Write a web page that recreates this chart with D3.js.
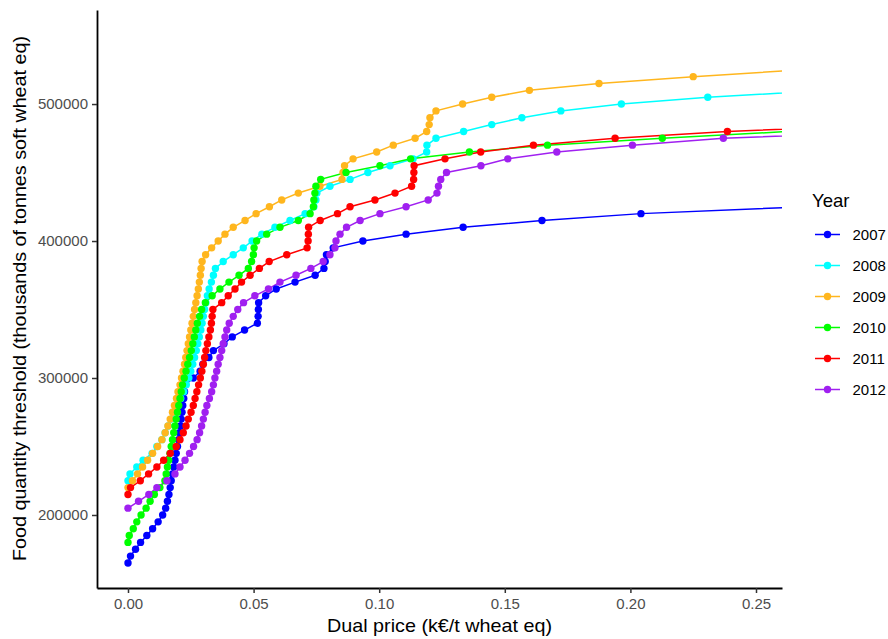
<!DOCTYPE html>
<html>
<head>
<meta charset="utf-8">
<script src="https://cdn.jsdelivr.net/npm/d3@7"></script>
<style>
  body { margin: 0; background: #fff; }
  text { font-family: "Liberation Sans", Arial, sans-serif; }
</style>
</head>
<body>
<div id="chart"></div>
<script>
// Threshold levels (food quantity, tonnes soft wheat eq)
var thresholds = [165000, 170000, 175000, 180000, 185000, 190000, 195000, 200000, 205000, 210000,
  215000, 220000, 225000, 230000, 235000, 240000, 245000, 250000, 255000, 260000,
  265000, 270000, 275000, 280000, 285000, 290000, 295000, 300000, 305000, 310000,
  315000, 320000, 325000, 330000, 335000, 340000, 345000, 350000, 355000, 360000,
  365000, 370000, 375000, 380000, 385000, 390000, 395000, 400000, 405000, 410000,
  415000, 420000, 425000, 430000, 435000, 440000, 445000, 450000, 455000, 460000,
  465000, 470000, 475000, 480000, 485000, 490000, 495000, 500000, 505000, 510000,
  515000, 520000, 525000];

// Dual price for each threshold level (null = no point at that level)
var price2007 = [0, 0.001, 0.003, 0.005, 0.0075, 0.0098, 0.012, 0.0138, 0.015, 0.0157,
  0.0163, 0.0168, 0.0172, 0.0177, 0.0182, 0.0187, 0.0192, 0.0197, 0.0201, 0.0205,
  0.0209, 0.0212, 0.0215, 0.0218, 0.0222, 0.0225, 0.0228, 0.026, 0.0287, 0.0298,
  0.0322, 0.034, 0.0382, 0.0415, 0.0464, 0.0515, 0.0518, 0.0519, 0.052, 0.0548,
  0.059, 0.0665, 0.0745, 0.078, 0.0785, 0.079, 0.0817, 0.0935, 0.1107, 0.1334,
  0.1648, 0.2042, 0.27, null, null, null, null, null, null, null,
  null, null, null, null, null, null, null, null, null, null,
  null, null, null];

var price2008 = [null, null, null, null, null, null, null, null, null, null,
  null, null, 0, 0.0008, 0.0035, 0.006, 0.0096, 0.0115, 0.0135, 0.0148,
  0.016, 0.0172, 0.0185, 0.02, 0.021, 0.0222, 0.0232, 0.0242, 0.025, 0.0258,
  0.0265, 0.0272, 0.0278, 0.0284, 0.029, 0.0295, 0.03, 0.0305, 0.031, 0.0316,
  0.0323, 0.0332, 0.034, 0.0348, 0.0379, 0.0419, 0.0459, 0.0494, 0.0533, 0.0585,
  0.0645, 0.0705, 0.074, 0.0748, 0.0752, 0.0804, 0.0884, 0.0955, 0.1043, 0.1135,
  0.1189, 0.119, 0.1226, 0.1336, 0.1448, 0.1568, 0.1723, 0.1964, 0.2308, 0.28,
  null, null, null];

var price2009 = [null, null, null, null, null, null, null, null, null, null,
  null, 0, 0.0018, 0.0038, 0.0058, 0.0078, 0.0098, 0.0118, 0.0135, 0.0148,
  0.0159, 0.0168, 0.0177, 0.0185, 0.0193, 0.0199, 0.0207, 0.0213, 0.0219, 0.0225,
  0.023, 0.0235, 0.024, 0.0245, 0.025, 0.0255, 0.026, 0.0265, 0.027, 0.0275,
  0.028, 0.0284, 0.0288, 0.0291, 0.0295, 0.0309, 0.0333, 0.0359, 0.0386, 0.0419,
  0.0466, 0.051, 0.0563, 0.0612, 0.0678, 0.0764, 0.0852, 0.0856, 0.0862, 0.0896,
  0.099, 0.1056, 0.1143, 0.1189, 0.1199, 0.1202, 0.1226, 0.1332, 0.1448, 0.1598,
  0.1875, 0.225, 0.268];

var price2010 = [null, null, null, 0, 0.0005, 0.0021, 0.0035, 0.0052, 0.0072, 0.0088,
  0.0105, 0.0127, 0.0147, 0.0152, 0.0157, 0.0162, 0.0167, 0.0172, 0.0177, 0.0182,
  0.0187, 0.0192, 0.0197, 0.0202, 0.0207, 0.0212, 0.0217, 0.0224, 0.0231, 0.0238,
  0.0245, 0.0252, 0.0258, 0.0264, 0.027, 0.0276, 0.0285, 0.0293, 0.0308, 0.0335,
  0.0366, 0.0402, 0.0442, 0.0479, 0.0492, 0.0499, 0.0502, 0.0512, 0.0552, 0.0605,
  0.0678, 0.0725, 0.0738, 0.074, 0.0744, 0.0748, 0.0767, 0.0868, 0.1003, 0.1125,
  0.1359, 0.167, 0.2127, 0.263, null, null, null, null, null, null,
  null, null, null];

var price2011 = [null, null, null, null, null, null, null, null, null, null,
  0, 0.001, 0.0049, 0.0082, 0.0115, 0.0142, 0.0168, 0.0192, 0.0207, 0.022,
  0.0231, 0.024, 0.0251, 0.026, 0.0267, 0.0274, 0.0281, 0.0288, 0.0294, 0.03,
  0.0305, 0.031, 0.0316, 0.0322, 0.0328, 0.0332, 0.0335, 0.0338, 0.0373, 0.0399,
  0.0426, 0.0452, 0.0486, 0.0523, 0.0562, 0.0632, 0.0713, 0.0717, 0.0718, 0.0719,
  0.0765, 0.0834, 0.0884, 0.0983, 0.1063, 0.1129, 0.1137, 0.1138, 0.1139, 0.1262,
  0.1404, 0.1614, 0.1939, 0.2386, 0.31, null, null, null, null, null,
  null, null, null];

var price2012 = [null, null, null, null, null, null, null, null, 0, 0.0042,
  0.0083, 0.0115, 0.0155, 0.0187, 0.0207, 0.0227, 0.0245, 0.0261, 0.0275, 0.0285,
  0.0293, 0.03, 0.0307, 0.0314, 0.0324, 0.0333, 0.034, 0.0346, 0.0353, 0.0359,
  0.0366, 0.0373, 0.0379, 0.0386, 0.0393, 0.0403, 0.0419, 0.0437, 0.046, 0.0505,
  0.0559, 0.0605, 0.0669, 0.0728, 0.0777, 0.0804, 0.0824, 0.0828, 0.0844, 0.087,
  0.0924, 0.1003, 0.1107, 0.1195, 0.123, 0.1236, 0.1245, 0.1268, 0.1405, 0.1512,
  0.1707, 0.2008, 0.237, 0.307, null, null, null, null, null, null,
  null, null, null];

var years = ["2007", "2008", "2009", "2010", "2011", "2012"];
var yearColors = ["#0000FF", "#00FFFF", "#FFB61E", "#00FF00", "#FF0000", "#A020F0"];
var xTicks = [0, 0.05, 0.10, 0.15, 0.20, 0.25];
var yTicks = [200000, 300000, 400000, 500000];

var priceByYear = [price2007, price2008, price2009, price2010, price2011, price2012];

// SVG area and panel
var svgWidth = 888;
var svgHeight = 639;
var panel = { left: 97, right: 782, top: 10, bottom: 588 };

var svg = d3.select("#chart")
  .append("svg")
  .attr("width", svgWidth)
  .attr("height", svgHeight);

var xScale = d3.scaleLinear()
  .domain([-0.01234, 0.26035])
  .range([panel.left, panel.right]);

var yScale = d3.scaleLinear()
  .domain([146700, 568650])
  .range([panel.bottom, panel.top]);

// build series from the arrays
var series = years.map(function(year, i) {
  var pts = [];
  thresholds.forEach(function(t, j) {
    var p = priceByYear[i][j];
    if (p !== null) pts.push({ price: p, threshold: t });
  });
  return { year: year, color: yearColors[i], points: pts };
});

svg.append("clipPath")
  .attr("id", "panel-clip")
  .append("rect")
  .attr("x", panel.left)
  .attr("y", panel.top)
  .attr("width", panel.right - panel.left)
  .attr("height", panel.bottom - panel.top);

var plotGroup = svg.append("g")
  .attr("clip-path", "url(#panel-clip)");

var line = d3.line()
  .x(d => xScale(d.price))
  .y(d => yScale(d.threshold));

// lines first, then points (like ggplot layers)
plotGroup.selectAll(".series-line")
  .data(series)
  .enter()
  .append("path")
  .attr("class", "series-line")
  .attr("d", d => line(d.points))
  .attr("fill", "none")
  .attr("stroke", d => d.color)
  .attr("stroke-width", 1.5);

series.forEach(function(s) {
  plotGroup.append("g")
    .selectAll("circle")
    .data(s.points)
    .enter()
    .append("circle")
    .attr("cx", d => xScale(d.price))
    .attr("cy", d => yScale(d.threshold))
    .attr("r", 3.7)
    .attr("fill", s.color);
});

// Axes
var bottomAxis = d3.axisBottom(xScale)
  .tickValues(xTicks)
  .tickFormat(d3.format(".2f"))
  .tickSizeInner(5)
  .tickSizeOuter(0)
  .tickPadding(5);

var leftAxis = d3.axisLeft(yScale)
  .tickValues(yTicks)
  .tickFormat(d3.format("d"))
  .tickSizeInner(5)
  .tickSizeOuter(0)
  .tickPadding(4);

var xAxis = svg.append("g")
  .attr("transform", "translate(0," + panel.bottom + ")")
  .call(bottomAxis);

var yAxis = svg.append("g")
  .attr("transform", "translate(" + panel.left + ",0)")
  .call(leftAxis);

[xAxis, yAxis].forEach(function(ax) {
  ax.select(".domain").attr("stroke", "#000").attr("stroke-width", 1.8);
  ax.selectAll(".tick line").attr("stroke", "#333").attr("stroke-width", 1.5);
  ax.selectAll(".tick text")
    .attr("fill", "#4D4D4D")
    .style("font-size", "15px")
    .style("font-family", "'Liberation Sans', Arial, sans-serif");
});

// Axis titles
svg.append("text")
  .attr("x", (panel.left + panel.right) / 2)
  .attr("y", 632)
  .attr("text-anchor", "middle")
  .attr("textLength", 225)
  .attr("lengthAdjust", "spacingAndGlyphs")
  .style("font-size", "19px")
  .attr("fill", "#000")
  .text("Dual price (k€/t wheat eq)");

svg.append("text")
  .attr("transform", "translate(26,298.5) rotate(-90)")
  .attr("text-anchor", "middle")
  .attr("textLength", 525)
  .attr("lengthAdjust", "spacingAndGlyphs")
  .style("font-size", "19px")
  .attr("fill", "#000")
  .text("Food quantity threshold (thousands of tonnes soft wheat eq)");

// Legend
var legend = svg.append("g");

legend.append("text")
  .attr("x", 812)
  .attr("y", 207)
  .style("font-size", "18.5px")
  .attr("fill", "#000")
  .text("Year");

var legendItems = legend.selectAll(".legend-item")
  .data(series)
  .enter()
  .append("g")
  .attr("class", "legend-item")
  .attr("transform", (d, i) => "translate(0," + (234.5 + i * 31) + ")");

legendItems.append("line")
  .attr("x1", 815)
  .attr("x2", 840)
  .attr("stroke", d => d.color)
  .attr("stroke-width", 1.5);

legendItems.append("circle")
  .attr("cx", 827.5)
  .attr("r", 3.7)
  .attr("fill", d => d.color);

legendItems.append("text")
  .attr("x", 852.5)
  .attr("dy", "0.35em")
  .style("font-size", "15px")
  .attr("fill", "#000")
  .text(d => d.year);
</script>
</body>
</html>
